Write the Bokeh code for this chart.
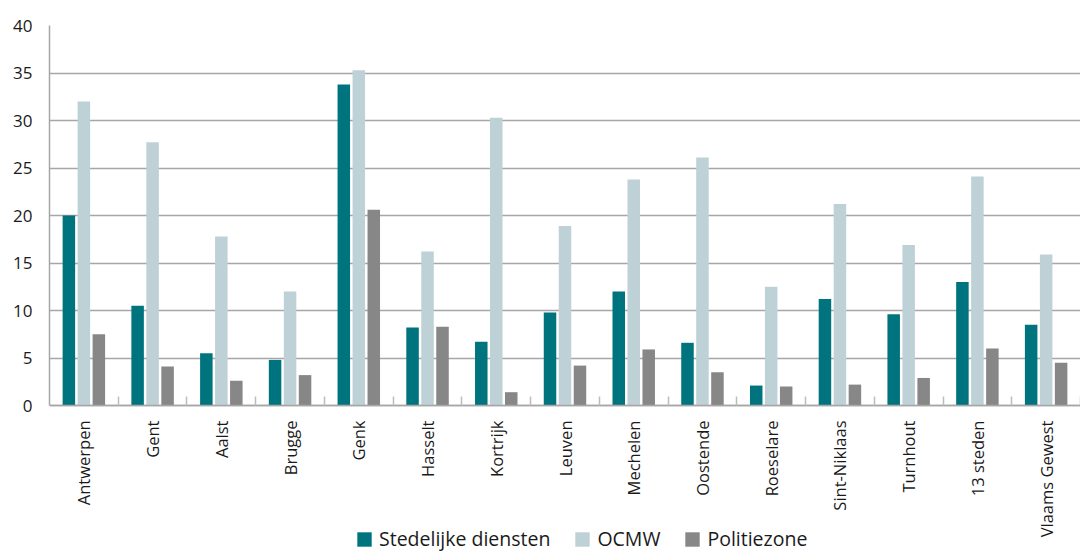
import math
from bokeh.plotting import figure
from bokeh.models import (ColumnDataSource, Range1d, FixedTicker, Legend, LegendItem)
from bokeh.transform import dodge
from bokeh.embed import file_html
from bokeh.resources import INLINE

categories = ["Antwerpen", "Gent", "Aalst", "Brugge", "Genk", "Hasselt", "Kortrijk",
              "Leuven", "Mechelen", "Oostende", "Roeselare", "Sint-Niklaas", "Turnhout",
              "13 steden", "Vlaams Gewest"]
stedelijke = [20.0, 10.5, 5.5, 4.8, 33.8, 8.2, 6.7, 9.8, 12.0, 6.6, 2.1, 11.2, 9.6, 13.0, 8.5]
ocmw = [32.0, 27.7, 17.8, 12.0, 35.3, 16.2, 30.3, 18.9, 23.8, 26.1, 12.5, 21.2, 16.9, 24.1, 15.9]
politie = [7.5, 4.1, 2.6, 3.2, 20.6, 8.3, 1.4, 4.2, 5.9, 3.5, 2.0, 2.2, 2.9, 6.0, 4.5]
series_names = ["Stedelijke diensten", "OCMW", "Politiezone"]
y_ticks = [0, 5, 10, 15, 20, 25, 30, 35, 40]

colors = ["#00747E", "#BED1D6", "#878787"]
FONT = "Open Sans"
TXT = "#1a1a1a"

W, H = 1080, 556
TOP, LEFT, ZERO_Y = 25, 49, 405
px_per_unit = (ZERO_Y - TOP) / 40.0
y_start = -(H - ZERO_Y) / px_per_unit

idx = [i + 0.5 for i in range(len(categories))]
src = ColumnDataSource(dict(x=idx, s=stedelijke, o=ocmw, p=politie))

p = figure(width=W, height=H, output_backend="svg", toolbar_location=None,
           x_range=Range1d(0, 15), y_range=Range1d(y_start, 40),
           min_border_left=LEFT, min_border_right=0, min_border_top=TOP, min_border_bottom=0)
p.outline_line_color = None
p.background_fill_color = "white"

off = 0.218
bw = 0.182
r1 = p.vbar(x=dodge("x", -off), top="s", width=bw, source=src, color=colors[0], line_color=None)
r2 = p.vbar(x=dodge("x", 0), top="o", width=bw, source=src, color=colors[1], line_color=None)
r3 = p.vbar(x=dodge("x", off), top="p", width=bw, source=src, color=colors[2], line_color=None)

# y axis
p.yaxis.ticker = FixedTicker(ticks=y_ticks)
p.yaxis.bounds = (0, 40)
p.yaxis.major_tick_line_color = None
p.yaxis.minor_tick_line_color = None
p.yaxis.major_tick_in = 0
p.yaxis.major_tick_out = 0
p.yaxis.axis_line_color = "#a6a6a6"
p.yaxis.axis_line_width = 1.5
p.yaxis.major_label_standoff = 17
p.yaxis.major_label_text_font = FONT
p.yaxis.major_label_text_font_size = "17px"
p.yaxis.major_label_text_color = TXT

# x axis drawn at y = 0 inside the frame
p.xaxis.fixed_location = 0
p.xaxis.ticker = FixedTicker(ticks=idx, minor_ticks=list(range(1, len(categories) + 1)))
p.xaxis.major_label_overrides = {v: c for v, c in zip(idx, categories)}
p.xaxis.major_tick_line_color = None
p.xaxis.major_tick_in = 0
p.xaxis.major_tick_out = 0
p.xaxis.minor_tick_line_color = "#bcbcbc"
p.xaxis.minor_tick_line_width = 1.5
p.xaxis.minor_tick_in = 9
p.xaxis.minor_tick_out = 0
p.xaxis.axis_line_color = "#a6a6a6"
p.xaxis.axis_line_width = 1.5
p.xaxis.major_label_orientation = math.pi / 2
p.xaxis.major_label_standoff = 15
p.xaxis.major_label_text_font = FONT
p.xaxis.major_label_text_font_size = "16.5px"
p.xaxis.major_label_text_color = TXT

p.xgrid.grid_line_color = None
p.ygrid.grid_line_color = "#a6a6a6"
p.ygrid.grid_line_width = 1.5

legend = Legend(items=[LegendItem(label=n, renderers=[r]) for n, r in zip(series_names, [r1, r2, r3])],
                orientation="horizontal", location=(355 - LEFT, 4),
                glyph_width=18, glyph_height=18, label_standoff=6, spacing=23,
                padding=0, margin=0, border_line_color=None, background_fill_alpha=0,
                label_text_font=FONT, label_text_font_size="19.5px", label_text_color=TXT,
                label_height=18)
p.add_layout(legend, "center")

open("out.html", "w").write(file_html(p, INLINE))
